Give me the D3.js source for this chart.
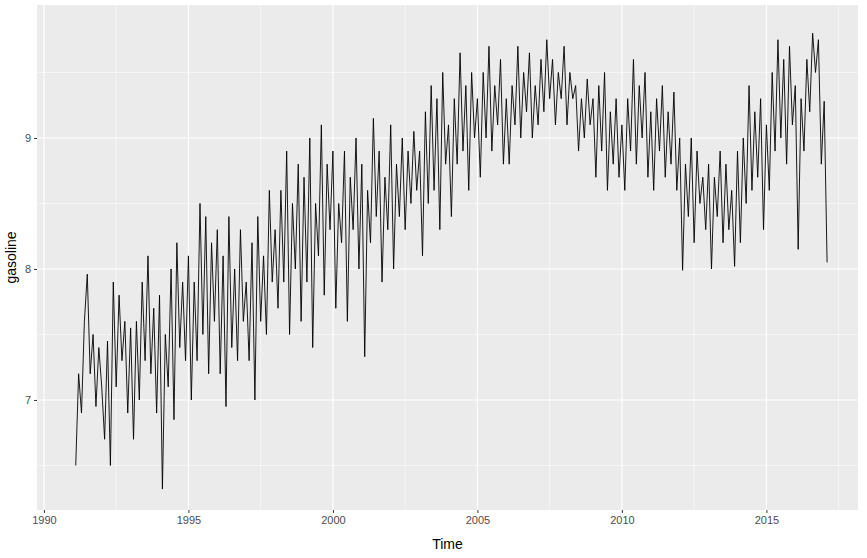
<!DOCTYPE html>
<meta charset="utf-8">
<html>
<head>
<script src="https://cdn.jsdelivr.net/npm/d3@7"></script>
<style>body{margin:0;background:#fff}</style>
</head>
<body>
<div id="viz"></div>
<script>
// weekly series, sampled every 0.1 year starting 1991.1
const startYear = 1991.1, step = 0.1;
const gasoline = [
  6.5,7.2,6.9,7.6,7.96,7.2,7.5,6.95,7.4,7.1,
  6.7,7.45,6.5,7.9,7.1,7.8,7.3,7.6,6.9,7.55,
  6.7,7.6,7.0,7.9,7.3,8.1,7.2,7.7,6.9,7.8,
  6.32,7.5,7.1,8.0,6.85,8.2,7.4,7.9,7.3,8.1,
  7.0,7.9,7.3,8.5,7.5,8.4,7.2,8.2,7.6,8.3,
  7.2,8.1,6.95,8.4,7.4,8.0,7.3,8.3,7.6,7.9,
  7.3,8.2,7.0,8.4,7.6,8.1,7.5,8.6,7.9,8.3,
  7.7,8.6,7.9,8.9,7.5,8.5,8.0,8.8,7.6,8.7,
  7.9,9.0,7.4,8.5,8.1,9.1,7.8,8.8,8.3,8.9,
  7.7,8.5,8.2,8.9,7.6,8.7,8.3,9.0,8.0,8.8,
  7.33,8.6,8.2,9.15,8.4,8.9,7.9,8.7,8.3,9.1,
  8.0,8.8,8.4,9.0,8.3,8.9,8.5,9.05,8.6,8.9,
  8.1,9.2,8.5,9.4,8.6,9.3,8.3,9.5,8.8,9.1,
  8.4,9.3,8.8,9.65,8.9,9.4,8.6,9.5,9.0,9.3,
  8.7,9.5,9.0,9.7,8.9,9.4,9.1,9.6,8.8,9.3,
  8.8,9.4,9.1,9.7,9.0,9.5,9.2,9.65,9.0,9.4,
  9.1,9.6,9.2,9.75,9.3,9.6,9.1,9.5,9.3,9.7,
  9.1,9.5,9.3,9.4,8.9,9.3,9.0,9.45,9.1,9.3,
  8.7,9.4,8.9,9.5,8.6,9.2,8.8,9.3,8.7,9.1,
  8.6,9.3,8.9,9.6,8.8,9.4,9.0,9.5,8.7,9.2,
  8.6,9.3,8.9,9.4,8.7,9.2,8.8,9.35,8.6,9.0,
  7.99,8.8,8.4,9.0,8.2,8.9,8.5,8.7,8.3,8.8,
  8.0,8.7,8.4,8.9,8.2,8.8,8.3,8.6,8.02,8.9,
  8.2,9.0,8.5,9.4,8.6,9.2,8.7,9.3,8.3,9.1,
  8.6,9.5,8.9,9.75,9.0,9.6,8.8,9.7,9.1,9.4,
  8.15,9.3,8.9,9.6,9.2,9.8,9.5,9.75,8.8,9.28,
  8.05
];
const xTicks = [1990, 1995, 2000, 2005, 2010, 2015];
const yTicks = [7, 8, 9];

const W = 867, H = 558;
const panel = {left: 37, right: 858, top: 5, bottom: 510};
const svg = d3.select("#viz").append("svg").attr("width", W).attr("height", H)
  .style("font-family", "Arial, 'Liberation Sans', sans-serif");

const x = d3.scaleLinear().domain([1989.76, 2018.17]).range([panel.left, panel.right]);
const y = d3.scaleLinear().domain([6.16, 10.015]).range([panel.bottom, panel.top]);

svg.append("rect").attr("x", panel.left).attr("y", panel.top)
  .attr("width", panel.right - panel.left).attr("height", panel.bottom - panel.top)
  .attr("fill", "#EBEBEB");

const grid = svg.append("g");
const minorX = xTicks.map(d => d + 2.5).filter(d => d > x.domain()[0] && d < x.domain()[1]);
const minorY = [6.5, 7.5, 8.5, 9.5];
grid.selectAll(".mx").data(minorX).join("line")
  .attr("x1", d => x(d)).attr("x2", d => x(d)).attr("y1", panel.top).attr("y2", panel.bottom)
  .attr("stroke", "#fff").attr("stroke-width", 0.55);
grid.selectAll(".my").data(minorY).join("line")
  .attr("y1", d => y(d)).attr("y2", d => y(d)).attr("x1", panel.left).attr("x2", panel.right)
  .attr("stroke", "#fff").attr("stroke-width", 0.55);
grid.selectAll(".gx").data(xTicks).join("line")
  .attr("x1", d => x(d)).attr("x2", d => x(d)).attr("y1", panel.top).attr("y2", panel.bottom)
  .attr("stroke", "#fff").attr("stroke-width", 1.1);
grid.selectAll(".gy").data(yTicks).join("line")
  .attr("y1", d => y(d)).attr("y2", d => y(d)).attr("x1", panel.left).attr("x2", panel.right)
  .attr("stroke", "#fff").attr("stroke-width", 1.1);

const line = d3.line().x((d, i) => x(startYear + i * step)).y(d => y(d));
svg.append("path").datum(gasoline).attr("d", line)
  .attr("fill", "none").attr("stroke", "#000").attr("stroke-width", 0.9);

const xAxis = svg.append("g").attr("transform", `translate(0,${panel.bottom})`)
  .call(d3.axisBottom(x).tickValues(xTicks).tickFormat(d3.format("d")).tickSize(3).tickPadding(3));
const yAxis = svg.append("g").attr("transform", `translate(${panel.left},0)`)
  .call(d3.axisLeft(y).tickValues(yTicks).tickFormat(d3.format("d")).tickSize(3).tickPadding(3));
[xAxis, yAxis].forEach(a => {
  a.select(".domain").remove();
  a.selectAll("line").attr("stroke", "#333");
  a.selectAll("text").attr("fill", "#4D4D4D").style("font-size", "11px");
});

svg.append("text").attr("x", (panel.left + panel.right) / 2).attr("y", 549)
  .attr("text-anchor", "middle").style("font-size", "14px").text("Time");
svg.append("text").attr("transform", `translate(16,${(panel.top + panel.bottom) / 2}) rotate(-90)`)
  .attr("text-anchor", "middle").style("font-size", "14px").text("gasoline");
</script>
</body>
</html>
